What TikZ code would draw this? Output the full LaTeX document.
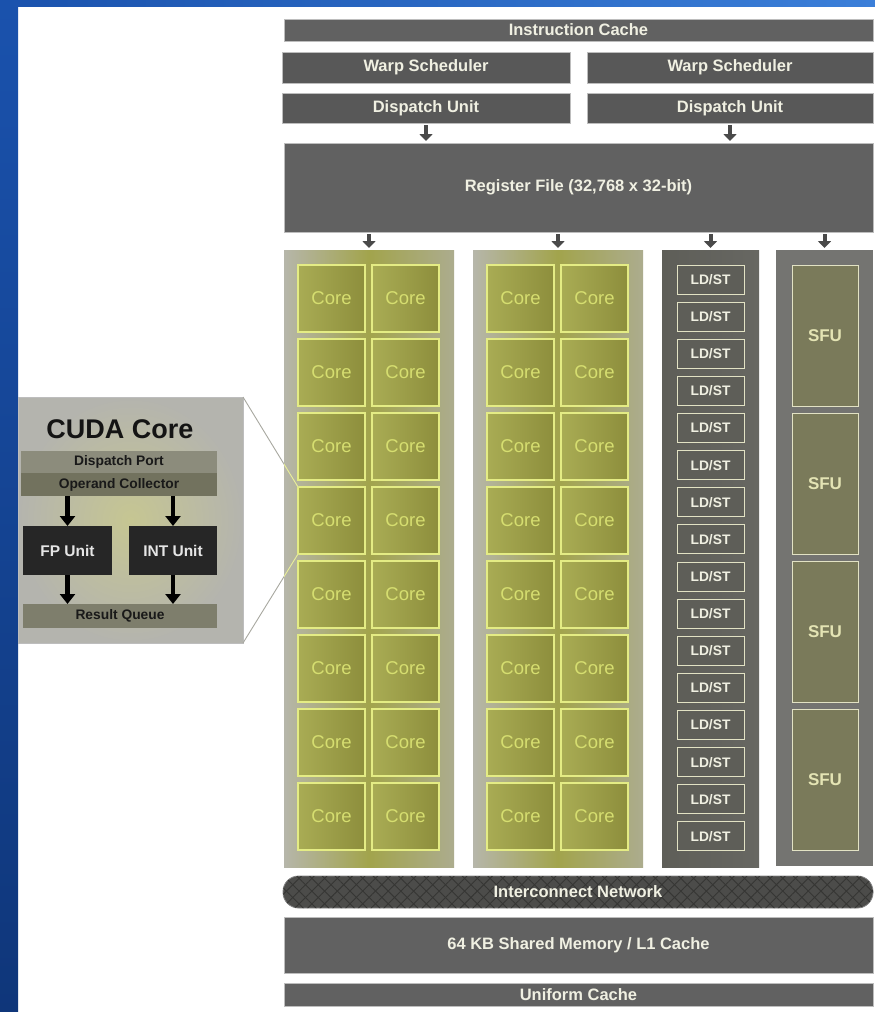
\documentclass[tikz,border=0pt]{standalone}
\usepackage{fontspec}
\setmainfont{Liberation Sans}
\usetikzlibrary{arrows.meta,patterns.meta}
\definecolor{boxgray}{HTML}{616161}
\definecolor{boxdark}{HTML}{585858}
\definecolor{bordergray}{HTML}{BDBDBD}
\definecolor{lbl}{HTML}{F0F0E2}
\definecolor{arrgray}{HTML}{4A4A4A}
\definecolor{colgrayL}{HTML}{B6B6AA}
\definecolor{colmid}{HTML}{A2A44C}
\definecolor{colgrayR}{HTML}{ACAC8E}
\definecolor{cellL}{HTML}{A9AC54}
\definecolor{cellR}{HTML}{8D8E3C}
\definecolor{cellborder}{HTML}{E4EC84}
\definecolor{celltext}{HTML}{D6DE70}
\definecolor{ldfill}{HTML}{5E5E58}
\definecolor{ldfillR}{HTML}{676762}
\definecolor{ldborder}{HTML}{E2E2C4}
\definecolor{sfucolfill}{HTML}{747471}
\definecolor{sfufill}{HTML}{7A7A5A}
\definecolor{sfutext}{HTML}{E4E4B4}
\definecolor{netfill}{HTML}{4C4C4A}
\definecolor{nethatch}{HTML}{363634}
\definecolor{insetout}{HTML}{B4B4AE}
\definecolor{insetin}{HTML}{C6C692}
\definecolor{dpcol}{HTML}{8C8C7C}
\definecolor{occol}{HTML}{72725E}
\definecolor{rqcol}{HTML}{7E7E6C}
\definecolor{unitfill}{HTML}{262626}
\definecolor{zoomline}{HTML}{A8A8A0}
\definecolor{zoomlineY}{HTML}{E8EE9A}
\definecolor{blueA}{HTML}{1A52AD}
\definecolor{blueB}{HTML}{0F367A}
\definecolor{blueC}{HTML}{3B7FD9}
\begin{document}
\begin{tikzpicture}[x=1pt,y=-1pt,
  sz/.style 2 args={minimum width=#1pt, minimum height=#2pt},
  base/.style={inner sep=0pt, outer sep=0pt, anchor=north west},
  gbox/.style={base, draw=bordergray, line width=0.8pt, fill=boxgray, text=lbl,
    font=\bfseries\fontsize{16.5}{18}\selectfont},
  corecol/.style={base, shade, left color=colgrayL, right color=colgrayR, middle color=colmid},
  cell/.style={base, shade, left color=cellL, right color=cellR, draw=cellborder,
    line width=1.2pt, text=celltext, font=\fontsize{18.5}{20}\selectfont, sz={67}{67}},
  ldcolst/.style={base, shade, left color=ldfill, right color=ldfillR},
  ldbox/.style={base, draw=ldborder, line width=1pt, fill=ldfill, text=lbl,
    font=\bfseries\fontsize{13.8}{15}\selectfont, sz={67}{29}},
  sfucolst/.style={base, fill=sfucolfill},
  sfubox/.style={base, draw=ldborder, line width=1pt, fill=sfufill, text=sfutext,
    font=\bfseries\fontsize{17}{19}\selectfont, sz={66}{141}},
  arr/.style={draw=arrgray, line width=4pt, -{Triangle[width=13pt,length=7pt]},
    shorten <=2pt, shorten >=2pt},
  barr/.style={draw=black, line width=4.5pt, -{Triangle[width=15pt,length=10pt]}},
  bar/.style={base, text=black!90, font=\bfseries\fontsize{13.8}{15}\selectfont},
  unit/.style={base, fill=unitfill, text=white!90!black, font=\bfseries\fontsize{15.5}{17}\selectfont},
  zl/.style={draw=zoomline, line width=0.9pt},
  zly/.style={draw=zoomlineY, line width=1pt}
]
\useasboundingbox (0,0) rectangle (875,1012);
\fill[white] (0,0) rectangle (875,1012);
% blue frame
\shade[top color=blueA, bottom color=blueB] (0,0) rectangle (18,1012);
\shade[left color=blueA, right color=blueC] (0,0) rectangle (875,6);

% top boxes
\node[gbox, sz={589}{22}] (ic) at (284,19) {Instruction Cache};
\node[gbox, sz={288}{31}, fill=boxdark] (ws1) at (282,52) {Warp Scheduler};
\node[gbox, sz={286}{31}, fill=boxdark] (ws2) at (587,52) {Warp Scheduler};
\node[gbox, sz={288}{30}, fill=boxdark] (du1) at (282,93) {Dispatch Unit};
\node[gbox, sz={286}{30}, fill=boxdark] (du2) at (587,93) {Dispatch Unit};
\node[gbox, sz={589}{89}] (rf) at (284,143) {Register File (32,768 x 32-bit)};

% columns
\node[corecol, sz={170}{617}] (col1) at (284,250) {};
\node[corecol, sz={170}{617}] (col2) at (473,250) {};
\node[ldcolst, sz={97}{617}] (ldcol) at (662,250) {};
\node[sfucolst, sz={97}{616}] (sfucol) at (776,250) {};

% core cells
\foreach \r in {1,...,8} {
  \pgfmathsetmacro\yy{265+(\r-1)*74}
  \node[cell] (c1a\r) at (298,\yy) {Core};
  \node[cell] (c1b\r) at (372,\yy) {Core};
  \node[cell] (c2a\r) at (487,\yy) {Core};
  \node[cell] (c2b\r) at (561,\yy) {Core};
}
% LD/ST units
\foreach \i in {0,...,15} {
  \pgfmathsetmacro\yy{265+\i*37.13}
  \node[ldbox] (ld\i) at (677,\yy) {LD/ST};
}
% SFUs
\foreach \i in {0,...,3} {
  \pgfmathsetmacro\yy{265+\i*148}
  \node[sfubox] (sfu\i) at (792,\yy) {SFU};
}

% arrows
\draw[arr] (du1.south) -- (du1.south |- rf.north);
\draw[arr] (du2.south) -- (du2.south |- rf.north);
\draw[arr] (rf.south -| col1.north) -- (col1.north);
\draw[arr] (rf.south -| col2.north) -- (col2.north);
\draw[arr] (rf.south -| ldcol.north) -- (ldcol.north);
\draw[arr] (rf.south -| sfucol.north) -- (sfucol.north);

% bottom boxes
\node[gbox, sz={590}{32}, fill=netfill, draw=bordergray!70!black, rounded corners=15.5pt,
  postaction={pattern={Lines[angle=45,distance=9pt,line width=0.9pt]}, pattern color=nethatch},
  postaction={pattern={Lines[angle=-45,distance=9pt,line width=0.9pt]}, pattern color=nethatch}]
  (net) at (283,876) {};
\node[text=lbl, font=\bfseries\fontsize{16.5}{18}\selectfont] (netlbl) at (net.center) {Interconnect Network};
\node[gbox, sz={589}{56}] (smem) at (284,917) {64 KB Shared Memory / L1 Cache};
\node[gbox, sz={589}{23}] (ucache) at (284,983) {Uniform Cache};

% CUDA core inset
\node[base, shade, inner color=insetin, outer color=insetout, draw=bordergray, line width=0.8pt,
  sz={225}{246}] (inset) at (18,397) {};
\node[font=\bfseries\fontsize{27}{30}\selectfont, text=black!92] (title) at (120,429) {CUDA Core};
\node[bar, sz={196}{22}, fill=dpcol] (dp) at (21,451) {Dispatch Port};
\node[bar, sz={196}{23}, fill=occol] (oc) at (21,473) {Operand Collector};
\node[unit, sz={89}{49}] (fp) at (23,526) {FP Unit};
\node[unit, sz={88}{49}] (int) at (129,526) {INT Unit};
\node[bar, sz={194}{24}, fill=rqcol] (rq) at (23,604) {Result Queue};
\draw[barr] (oc.south -| fp.north) -- (fp.north);
\draw[barr] (oc.south -| int.north) -- (int.north);
\draw[barr] (fp.south) -- (fp.south |- rq.north);
\draw[barr] (int.south) -- (int.south |- rq.north);

% zoom lines
\draw[zl] (inset.north east) -- (c1a4.north west);
\draw[zl] (inset.south east) -- (c1a4.south west);
\begin{scope}
  \clip (col1.north west) rectangle (col1.south east);
  \draw[zly] (inset.north east) -- (c1a4.north west);
  \draw[zly] (inset.south east) -- (c1a4.south west);
\end{scope}
\end{tikzpicture}
\end{document}
